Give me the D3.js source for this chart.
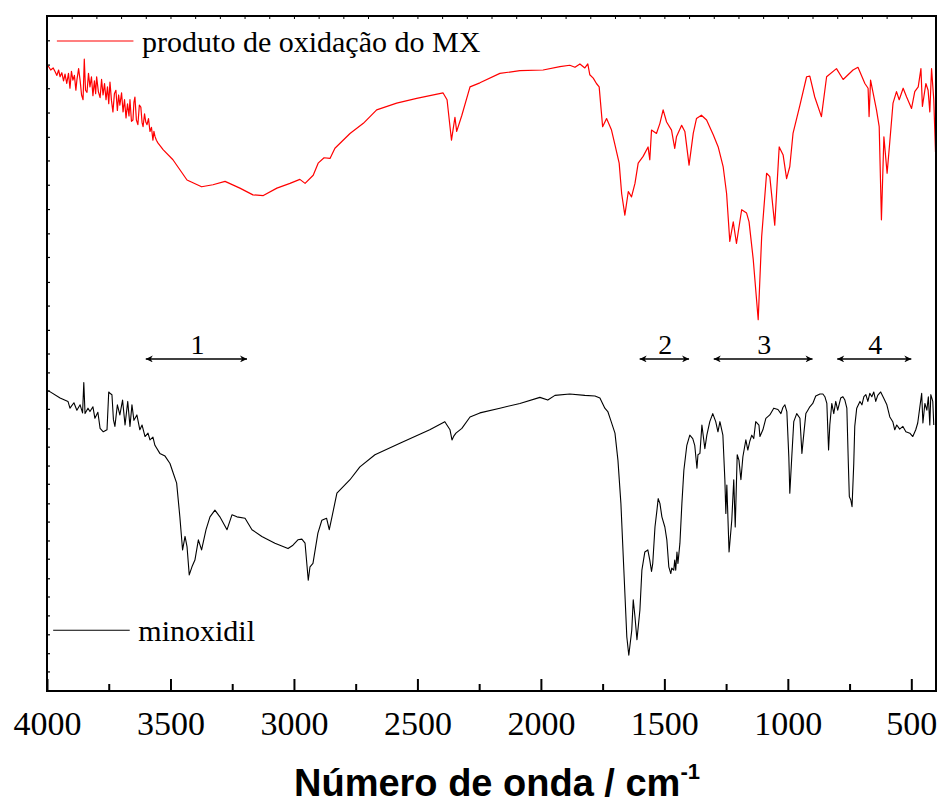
<!DOCTYPE html>
<html>
<head>
<meta charset="utf-8">
<script src="https://cdn.jsdelivr.net/npm/d3@7"></script>
<style>
  html, body { margin: 0; padding: 0; background: #fff; }
  svg { display: block; }
</style>
</head>
<body>
<svg id="chart" width="940" height="805"></svg>
<script>
// ---------------- DATA ----------------
// [wavenumber (cm-1), transmittance (arb. %, offset)]
const oxidationSpectrum = [
  [3995,92.6],[3985,92.0],[3975,92.3],[3968,91.8],[3960,91.2],[3953,92.0],[3947,91.0],[3940,91.6],
  [3933,90.4],[3927,91.4],[3920,90.0],[3913,91.5],[3907,89.3],[3901,91.8],[3895,90.5],[3889,91.2],
  [3883,89.0],[3879,90.5],[3872,92.2],[3866,90.5],[3860,88.3],[3854,87.6],[3849,93.6],[3844,89.0],
  [3838,88.7],[3832,91.5],[3826,89.5],[3820,91.0],[3814,88.2],[3808,90.4],[3803,88.5],[3799,91.0],
  [3792,88.8],[3785,87.9],[3779,90.6],[3773,88.3],[3767,90.0],[3761,87.6],[3755,89.5],[3750,87.0],
  [3745,90.2],[3739,87.5],[3733,85.8],[3727,88.5],[3721,89.0],[3715,86.0],[3710,88.3],[3705,86.8],
  [3698,88.6],[3692,85.8],[3686,87.6],[3680,84.9],[3674,87.0],[3668,85.2],[3664,87.6],[3658,84.4],
  [3652,84.6],[3648,87.2],[3644,88.0],[3638,84.6],[3632,83.9],[3626,86.8],[3620,86.5],[3615,84.2],
  [3611,83.6],[3605,85.5],[3600,84.3],[3595,83.9],[3589,84.8],[3583,82.9],[3577,83.5],[3571,81.6],
  [3567,82.9],[3563,82.2],[3557,81.6],[3551,81.2],[3540,80.7],[3530,80.2],
  [3490,78.7],[3433,75.7],[3374,74.7],[3328,75.0],[3279,75.5],
  [3219,74.5],[3166,73.5],[3124,73.4],[3069,74.5],[3016,75.2],[2976,75.8],[2955,75.2],[2922,76.4],
  [2902,78.2],[2878,79.0],[2854,78.9],[2834,80.4],[2773,82.6],[2719,84.1],[2665,86.1],[2584,87.1],
  [2503,87.8],[2396,88.6],[2380,87.6],[2362,81.6],[2348,85.0],[2341,82.9],[2320,85.3],[2287,89.5],
  [2247,90.1],[2166,91.5],[2085,91.9],[1991,92.0],[1923,92.5],[1883,92.7],[1862,92.4],[1842,92.9],
  [1822,92.3],[1810,92.9],[1802,91.3],[1788,90.8],[1775,90.0],[1764,89.5],[1750,83.6],[1734,84.8],
  [1714,83.1],[1700,80.9],[1683,78.2],[1673,73.7],[1660,70.5],[1646,74.0],[1633,73.2],[1619,75.2],
  [1606,78.2],[1586,79.2],[1566,80.6],[1559,78.7],[1552,83.1],[1532,82.6],[1518,84.1],[1505,86.1],
  [1491,84.3],[1471,83.1],[1458,80.4],[1451,82.1],[1430,83.8],[1417,82.9],[1400,77.9],[1383,82.6],
  [1370,84.8],[1350,85.3],[1329,84.6],[1302,82.4],[1282,80.6],[1262,77.7],[1248,73.7],[1235,66.6],
  [1221,69.5],[1208,66.3],[1187,71.3],[1167,70.8],[1157,69.5],[1140,63.9],[1120,55.0],[1106,67.3],
  [1086,76.7],[1073,76.2],[1053,69.0],[1035,80.6],[1019,79.4],[1005,75.9],[992,77.7],[979,82.6],
  [951,86.8],[924,91.0],[911,91.1],[891,88.0],[864,85.1],[843,91.0],[803,92.2],[776,90.6],
  [736,92.0],[716,92.4],[688,90.0],[675,89.3],[671,85.1],[665,90.5],[641,86.1],[630,83.6],
  [621,69.8],[611,82.1],[598,76.7],[587,81.4],[574,87.1],[560,88.8],[549,87.6],[533,89.3],
  [519,88.0],[499,86.3],[486,88.8],[472,89.5],[461,92.2],[455,86.6],[441,90.0],[432,89.0],
  [425,85.8],[418,92.2],[409,87.6],[402,79.8]
];

const minoxidilSpectrum = [
  [3995,44.5],[3947,43.4],[3915,42.9],[3907,41.9],[3891,42.7],[3879,41.6],[3866,42.4],[3856,41.2],
  [3851,45.7],[3846,41.1],[3834,41.9],[3826,41.4],[3814,42.1],[3806,40.4],[3794,41.3],[3785,38.9],
  [3772,38.4],[3757,38.7],[3750,44.3],[3745,44.1],[3737,43.9],[3731,40.2],[3725,39.2],[3715,42.4],
  [3705,40.9],[3694,43.1],[3684,39.4],[3673,42.9],[3664,39.2],[3656,42.4],[3648,40.1],[3636,40.9],
  [3624,38.7],[3615,39.4],[3603,37.7],[3591,38.2],[3583,37.2],[3571,37.6],[3563,36.4],[3543,35.2],
  [3522,34.8],[3502,33.7],[3489,32.3],[3475,30.8],[3462,25.8],[3451,20.9],[3441,22.9],[3433,21.4],
  [3424,17.2],[3413,18.4],[3401,19.4],[3387,22.4],[3374,20.9],[3356,23.9],[3340,25.8],[3320,26.8],
  [3300,25.8],[3271,23.9],[3251,26.1],[3231,25.8],[3198,25.6],[3170,23.9],[3130,22.9],[3077,21.9],
  [3024,21.1],[3004,21.6],[2984,22.4],[2968,22.5],[2955,21.9],[2942,16.4],[2935,18.4],[2923,18.9],
  [2903,23.4],[2887,25.3],[2868,25.6],[2857,23.9],[2846,25.8],[2826,29.3],[2773,31.3],[2733,33.2],
  [2672,35.0],[2571,36.7],[2450,38.7],[2389,39.9],[2368,38.7],[2360,37.2],[2352,37.8],[2344,38.2],
  [2320,38.9],[2287,40.6],[2247,41.2],[2166,41.9],[2085,42.6],[2004,43.5],[1972,43.1],[1943,43.8],
  [1883,44.0],[1822,43.8],[1781,43.7],[1761,43.4],[1741,41.9],[1729,41.4],[1717,40.1],[1700,38.2],
  [1688,34.2],[1676,27.8],[1664,17.9],[1652,8.0],[1644,5.3],[1632,9.0],[1626,13.5],[1619,11.0],
  [1611,7.6],[1599,12.0],[1591,17.9],[1579,20.6],[1567,20.9],[1559,19.4],[1552,17.7],[1547,18.9],
  [1538,24.3],[1530,26.8],[1525,28.5],[1518,27.8],[1510,25.8],[1498,24.3],[1490,22.4],[1482,18.4],
  [1474,17.4],[1470,18.2],[1462,17.9],[1458,19.4],[1454,17.9],[1449,20.6],[1445,18.9],[1437,21.9],
  [1429,27.8],[1421,32.7],[1409,36.4],[1397,37.9],[1385,37.4],[1377,36.4],[1368,33.0],[1364,35.0],
  [1356,35.2],[1348,39.4],[1336,35.9],[1328,37.9],[1316,39.9],[1304,41.1],[1292,39.9],[1283,38.4],
  [1275,39.9],[1263,37.9],[1255,31.3],[1251,26.3],[1247,30.5],[1238,20.6],[1227,25.3],[1219,31.3],
  [1213,24.3],[1205,35.0],[1198,34.2],[1190,31.3],[1182,34.7],[1170,37.2],[1162,35.7],[1154,37.0],
  [1146,37.9],[1138,37.4],[1130,39.9],[1117,39.4],[1113,37.7],[1101,38.7],[1089,40.4],[1073,40.9],
  [1057,41.9],[1040,41.7],[1028,41.1],[1020,42.0],[1012,42.4],[1004,41.4],[996,34.7],[992,29.3],
  [984,34.7],[976,39.9],[964,41.1],[951,40.4],[943,35.2],[935,38.2],[927,41.1],[919,41.6],
  [911,42.1],[899,42.6],[887,43.7],[870,44.0],[858,44.0],[850,43.6],[842,42.6],[835,35.7],
  [830,39.4],[822,42.6],[814,41.1],[806,42.9],[798,41.6],[786,43.4],[777,43.6],[769,43.1],
  [761,41.9],[755,33.7],[751,28.8],[745,28.3],[740,27.3],[733,33.7],[729,39.2],[721,41.9],
  [708,42.9],[700,42.4],[692,43.6],[684,43.9],[676,42.9],[668,44.1],[660,43.6],[652,44.3],
  [644,42.9],[636,43.8],[624,44.3],[612,43.4],[599,42.4],[587,40.6],[575,39.9],[567,38.7],
  [559,39.4],[547,38.8],[534,39.2],[522,38.4],[506,38.2],[494,37.7],[482,38.7],[474,39.7],
  [466,41.9],[458,44.1],[453,39.7],[445,42.6],[437,41.6],[431,43.6],[425,39.4],[421,43.9],
  [413,42.9],[409,39.4]
];

const xMajorTicks = [4000, 3500, 3000, 2500, 2000, 1500, 1000, 500];
const xMinorTicks = [3750, 3250, 2750, 2250, 1750, 1250, 750];
const xTopTicks = [3900,3800,3700,3600,3500,3400,3300,3200,3100,3000,2900,2800,2700,2600,2500,
                   2400,2300,2200,2100,2000,1900,1800,1700,1600,1500,1400,1300,1200,1100,1000,
                   900,800,700,600,500];
const yTicks = [96.4,92.8,89.3,85.7,82.1,78.6,75.0,71.4,67.8,64.3,60.6,57.1,53.5,
                50.0,47.2,44.5,41.8,38.9,36.2,33.4,30.7,27.8,25.1,22.3,19.6,16.7,14.0,11.2,8.4,5.6,2.9];

const regionLabels = ["1", "2", "3", "4"];
const regionFrom   = [3600, 1600, 1300, 800];
const regionTo     = [3190, 1400, 900, 500];
const regionLevel  = 49.2;

const seriesNames  = ["produto de oxidação do MX", "minoxidil"];
const seriesColors = ["#ff0000", "#000000"];
const legendLevels = [96.3, 9.0];

const xTitle = "Número de onda / cm";
const xTitleSup = "-1";

// ---------------- CHART ----------------
const SERIF = '"Liberation Serif", "Times New Roman", "DejaVu Serif", serif';
const SANS = '"Liberation Sans", Arial, sans-serif';
const svg = d3.select("#chart");
const L = 47, R = 936, T = 16, B = 691;

const x = d3.scaleLinear().domain([4000, 400]).range([L, R]);
const y = d3.scaleLinear().domain([0, 100]).range([B, T]);

svg.append("defs").append("clipPath").attr("id", "plotclip")
  .append("rect").attr("x", L).attr("y", T).attr("width", R - L).attr("height", B - T);

const line = d3.line().x(d => x(d[0])).y(d => y(d[1]));

const plot = svg.append("g").attr("clip-path", "url(#plotclip)");
plot.append("path").datum(oxidationSpectrum)
  .attr("d", line).attr("fill", "none").attr("stroke", seriesColors[0])
  .attr("stroke-width", 1.2).attr("stroke-linejoin", "round");
plot.append("path").datum(minoxidilSpectrum)
  .attr("d", line).attr("fill", "none").attr("stroke", seriesColors[1])
  .attr("stroke-width", 1.1).attr("stroke-linejoin", "round");

// Axes
const bottomMajor = d3.axisBottom(x).tickValues(xMajorTicks).tickSizeInner(-12).tickSizeOuter(0).tickPadding(20).tickFormat(d3.format("d"));
const gB = svg.append("g").attr("transform", `translate(0,${B})`).call(bottomMajor);
gB.attr("font-family", SERIF).attr("font-size", 34);
gB.select(".domain").remove();
gB.selectAll("line").attr("stroke", "#000").attr("stroke-width", 2);
gB.selectAll("text").style("font-family", SERIF).style("font-size", "34px").attr("fill", "#000");

const bottomMinor = d3.axisBottom(x).tickValues(xMinorTicks).tickSizeInner(-7).tickSizeOuter(0).tickFormat("");
const gBm = svg.append("g").attr("transform", `translate(0,${B})`).call(bottomMinor);
gBm.select(".domain").remove();
gBm.selectAll("line").attr("stroke", "#000").attr("stroke-width", 2);

const topAxis = d3.axisTop(x).tickValues(xTopTicks).tickSizeInner(-3).tickSizeOuter(0).tickFormat("");
const gT = svg.append("g").attr("transform", `translate(0,${T})`).call(topAxis);
gT.select(".domain").remove();
gT.selectAll("line").attr("stroke", "#000").attr("stroke-width", 1);

const leftAxis = d3.axisLeft(y).tickValues(yTicks).tickSizeInner(-3).tickSizeOuter(0).tickFormat("");
const gL = svg.append("g").attr("transform", `translate(${L},0)`).call(leftAxis);
gL.select(".domain").remove();
gL.selectAll("line").attr("stroke", "#000").attr("stroke-width", 1.2);

// Frame
svg.append("rect").attr("x", L).attr("y", T).attr("width", R - L).attr("height", B - T)
  .attr("fill", "none").attr("stroke", "#000").attr("stroke-width", 2);

// Legends
const legendX1 = [3960, 3975];
const legendX2 = [3650, 3665];
const legendTextX = [3615, 3630];
seriesNames.forEach((name, i) => {
  svg.append("line")
    .attr("x1", x(legendX1[i])).attr("x2", x(legendX2[i]))
    .attr("y1", y(legendLevels[i])).attr("y2", y(legendLevels[i]))
    .attr("stroke", seriesColors[i]).attr("stroke-width", 1.2);
  svg.append("text")
    .attr("x", x(legendTextX[i])).attr("y", y(legendLevels[i]) + 11)
    .style("font-family", SERIF).style("font-size", "30px").attr("fill", "#000")
    .text(name);
});

// Region arrows
const defs = svg.select("defs");
["start", "end"].forEach(k => {
  defs.append("marker").attr("id", "arrow-" + k)
    .attr("viewBox", "0 0 10 10").attr("refX", k === "end" ? 10 : 0).attr("refY", 5)
    .attr("markerUnits", "userSpaceOnUse").attr("markerWidth", 13).attr("markerHeight", 7)
    .attr("orient", "auto")
    .append("path")
    .attr("d", k === "end" ? "M0,0 L10,5 L0,10 L3,5 Z" : "M10,0 L0,5 L10,10 L7,5 Z")
    .attr("fill", "#000");
});
regionLabels.forEach((lab, i) => {
  svg.append("line")
    .attr("x1", x(regionFrom[i])).attr("x2", x(regionTo[i]))
    .attr("y1", y(regionLevel)).attr("y2", y(regionLevel))
    .attr("stroke", "#000").attr("stroke-width", 1.5)
    .attr("marker-start", "url(#arrow-start)").attr("marker-end", "url(#arrow-end)");
  svg.append("text")
    .attr("x", (x(regionFrom[i]) + x(regionTo[i])) / 2 + 1)
    .attr("y", y(regionLevel) - 5)
    .attr("text-anchor", "middle")
    .style("font-family", SERIF).style("font-size", "28px").attr("fill", "#000")
    .text(lab);
});

// X title
const title = svg.append("text")
  .attr("x", 294).attr("y", 796)
  .style("font-family", SANS).style("font-weight", "bold")
  .style("font-size", "38px").attr("fill", "#000");
title.append("tspan").text(xTitle);
title.append("tspan").attr("dy", -17).style("font-size", "22px").text(xTitleSup);
</script>
</body>
</html>
